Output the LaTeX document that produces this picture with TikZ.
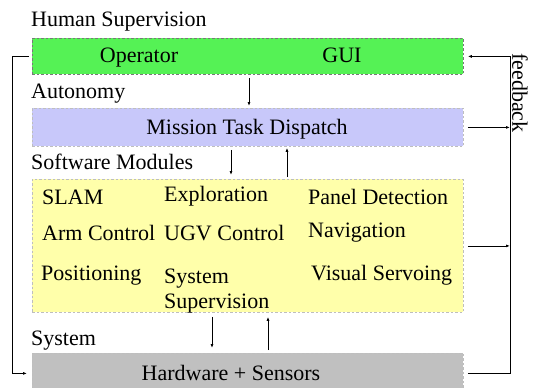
\documentclass[tikz,border=0pt]{standalone}
\usepackage{fontspec}
\setmainfont{Liberation Serif}
\newfontfamily\tnr{Liberation Serif}
\usetikzlibrary{arrows.meta}
\definecolor{hsgreen}{RGB}{85,242,85}
\definecolor{aulav}{RGB}{200,200,250}
\definecolor{swyel}{RGB}{255,255,170}
\definecolor{hwgray}{RGB}{192,192,192}
\definecolor{edgedark}{RGB}{120,120,120}
\definecolor{edgelight}{RGB}{190,190,190}
\tikzset{
  layerbox/.style={draw, dashed, dash pattern=on 2.5pt off 2pt, line width=0.8pt,
    minimum width=431pt, inner sep=0pt, anchor=north west},
  lbl/.style={inner sep=0pt, font=\tnr\fontsize{22}{26}\selectfont},
  arr/.style={-{Latex[length=4pt,width=3pt]}, line width=0.8pt},
  ln/.style={line width=0.8pt}
}
\begin{document}
\begin{tikzpicture}[x=1pt,y=-1pt]
\useasboundingbox (0,0) rectangle (533,388);
% layer boxes
\node[layerbox, draw=edgedark, fill=hsgreen, minimum height=36pt] (hs) at (32,38) {};
\node[layerbox, draw=edgelight, fill=aulav, minimum height=38pt] (mtd) at (32,108) {};
\node[layerbox, draw=edgelight, fill=swyel, minimum height=133pt] (sw) at (32,179) {};
\node[layerbox, draw=edgelight, fill=hwgray, minimum height=40pt] (hw) at (32,353) {};
% layer titles
\node[lbl, anchor=base west] (ths) at (31,27) {Human Supervision};
\node[lbl, anchor=base west] (tau) at (31,98) {Autonomy};
\node[lbl, anchor=base west] (tsw) at (31,169) {Software Modules};
\node[lbl, anchor=base west] (tsy) at (31,345) {System};
% box contents
\node[lbl, anchor=base] (op) at (139,62) {Operator};
\node[lbl, anchor=base] (gui) at (342,62) {GUI};
\node[lbl, anchor=base] (mtdt) at (247,134) {Mission Task Dispatch};
\node[lbl, anchor=base west] (slam) at (42,204) {SLAM};
\node[lbl, anchor=base west] (expl) at (164,201) {Exploration};
\node[lbl, anchor=base west] (pdet) at (308,204) {Panel Detection};
\node[lbl, anchor=base west] (arm) at (42,240) {Arm Control};
\node[lbl, anchor=base west] (ugv) at (164,240) {UGV Control};
\node[lbl, anchor=base west] (nav) at (308,237) {Navigation};
\node[lbl, anchor=base west] (pos) at (41,280) {Positioning};
\node[lbl, anchor=base west] (ssup1) at (164,283) {System};
\node[lbl, anchor=base west] (ssup2) at (164,308) {Supervision};
\node[lbl, anchor=base west] (vis) at (311,280) {Visual Servoing};
\node[lbl, anchor=base] (hwt) at (231,380) {Hardware + Sensors};
\node[lbl, rotate=-90] (fb) at (520,93) {feedback};
% helper x positions
\coordinate (a1) at (249,0);
\coordinate (a2) at (231,0);
\coordinate (a3) at (287,0);
\coordinate (a4) at (212,0);
\coordinate (a5) at (268,0);
\coordinate (lx) at (12,0);
\coordinate (fx) at (510,0);
% vertical arrows between layers
\draw[arr] ([yshift=-3pt]hs.south -| a1) -- ([yshift=2pt]mtd.north -| a1);
\draw[arr] ([yshift=-3pt]mtd.south -| a2) -- ([yshift=4pt]sw.north -| a2);
\draw[arr] ([yshift=2pt]sw.north -| a3) -- ([yshift=-1pt]mtd.south -| a3);
\draw[arr] ([yshift=-4pt]sw.south -| a4) -- ([yshift=5pt]hw.north -| a4);
\draw[arr] ([yshift=3pt]hw.north -| a5) -- ([yshift=-4pt]sw.south -| a5);
% left loop
\draw[arr] ([xshift=-3pt]hs.west) -- (hs.west -| lx) -- (hw.west -| lx) -- ([xshift=-5pt]hw.west);
% feedback loop
\draw[arr] ([xshift=4pt]hw.east) -- (hw.east -| fx) -- (hs.east -| fx) -- ([xshift=4pt]hs.east);
\draw[arr] ([xshift=4pt]mtd.east) -- (mtd.east -| fx);
\draw[arr] ([xshift=4pt]sw.east) -- (sw.east -| fx);
\end{tikzpicture}
\end{document}
